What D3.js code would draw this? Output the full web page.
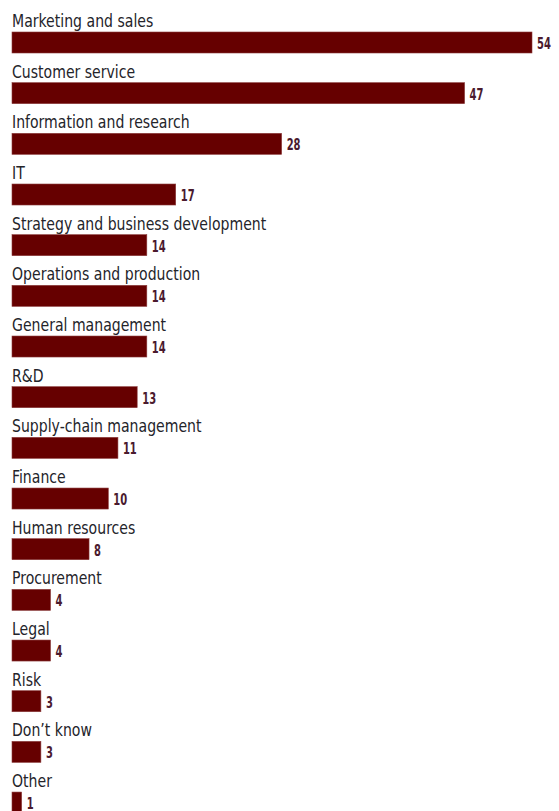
<!DOCTYPE html>
<html>
<head>
<meta charset="utf-8">
<script src="https://cdn.jsdelivr.net/npm/d3@7"></script>
<style>
  html, body { margin: 0; padding: 0; background: #ffffff; }
  svg { display: block; }
  .cat { font-family: "DejaVu Sans Condensed", "DejaVu Sans", sans-serif; font-size: 17px; fill: #24242a; }
  .val { font-family: "DejaVu Sans Condensed", "DejaVu Sans", sans-serif; font-size: 15px; font-weight: bold; fill: #4a1a2e; }
</style>
</head>
<body>
<svg id="chart" width="559" height="811"></svg>
<script>
// Share of respondents, by business function
const categories = [
  "Marketing and sales",
  "Customer service",
  "Information and research",
  "IT",
  "Strategy and business development",
  "Operations and production",
  "General management",
  "R&D",
  "Supply-chain management",
  "Finance",
  "Human resources",
  "Procurement",
  "Legal",
  "Risk",
  "Don’t know",
  "Other"
];
const values = [54, 47, 28, 17, 14, 14, 14, 13, 11, 10, 8, 4, 4, 3, 3, 1];

const chartW = 559, chartH = 811;
const marginLeft = 12;
const rowStep = 50.67;
const barH = 21;
const firstRowTop = 32 - (rowStep - barH);
// horizontal squeeze to get a narrow, condensed look for the labels
const catSqueeze = 0.92, valSqueeze = 0.74;

const svg = d3.select("#chart");

const x = d3.scaleLinear().domain([0, 54]).range([marginLeft, 532]);
const y = d3.scaleBand().domain(categories)
  .range([firstRowTop, firstRowTop + rowStep * categories.length]).padding(0);

const rows = svg.selectAll("g.row")
  .data(categories.map((c, i) => ({ cat: c, v: values[i] })))
  .join("g")
  .attr("class", "row")
  .attr("transform", d => `translate(0,${y(d.cat)})`);

rows.append("rect")
  .attr("x", x(0))
  .attr("y", rowStep - barH)
  .attr("width", d => x(d.v) - x(0))
  .attr("height", barH)
  .attr("fill", "#660000")
  .attr("stroke", "#8a3a3a")
  .attr("stroke-width", 0.6);

rows.append("text")
  .attr("class", "cat")
  .attr("transform", `translate(${marginLeft},${rowStep - barH - 5}) scale(${catSqueeze},1)`)
  .text(d => d.cat);

rows.append("text")
  .attr("class", "val")
  .attr("transform", d => `translate(${x(d.v) + 5},${rowStep - barH + 17}) scale(${valSqueeze},1)`)
  .text(d => d.v);
</script>
</body>
</html>
